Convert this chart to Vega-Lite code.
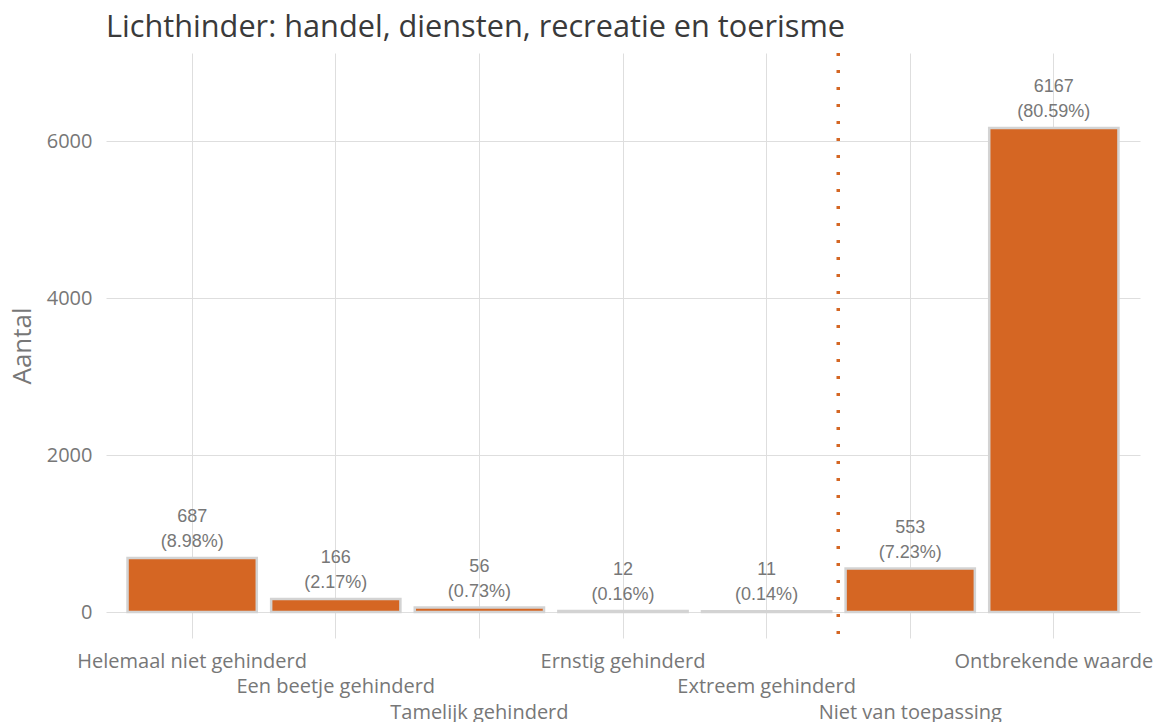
{
  "$schema": "https://vega.github.io/schema/vega-lite/v6.json",
  "width": 1034,
  "height": 585,
  "autosize": "none",
  "padding": {"left": 106, "top": 53, "right": 16, "bottom": 84},
  "background": "white",
  "title": {
    "text": "Lichthinder: handel, diensten, recreatie en toerisme",
    "anchor": "start",
    "frame": "group",
    "font": "Open Sans",
    "fontSize": 30.7,
    "fontWeight": "normal",
    "color": "#3a3a3a",
    "baseline": "bottom",
    "offset": 6,
    "dy": 28
  },
  "config": {"view": {"stroke": null}},
  "data": {
    "values": [
      {"cat": "Helemaal niet gehinderd", "n": 687, "pct": "(8.98%)"},
      {"cat": "Een beetje gehinderd", "n": 166, "pct": "(2.17%)"},
      {"cat": "Tamelijk gehinderd", "n": 56, "pct": "(0.73%)"},
      {"cat": "Ernstig gehinderd", "n": 12, "pct": "(0.16%)"},
      {"cat": "Extreem gehinderd", "n": 11, "pct": "(0.14%)"},
      {"cat": "Niet van toepassing", "n": 553, "pct": "(7.23%)"},
      {"cat": "Ontbrekende waarde", "n": 6167, "pct": "(80.59%)"}
    ]
  },
  "layer": [
    {
      "mark": {"type": "bar", "color": "#D56623", "stroke": "#d3d3d3", "strokeWidth": 2.5},
      "encoding": {
        "x": {
          "field": "cat",
          "type": "nominal",
          "sort": null,
          "scale": {"paddingInner": 0.1, "paddingOuter": 0.15},
          "axis": {
            "title": null,
            "labelAngle": 0,
            "labelOverlap": false,
            "labelLimit": 0,
            "labelBound": false,
            "bandPosition": 0.5,
            "domain": false,
            "ticks": false,
            "grid": true,
            "gridColor": "#dedede",
            "gridWidth": 1,
            "labelFont": "Open Sans",
            "labelFontSize": 20,
            "labelColor": "#777777",
            "labelPadding": {
              "condition": [
                {"test": "datum.value == 'Een beetje gehinderd' || datum.value == 'Extreem gehinderd'", "value": 38.5},
                {"test": "datum.value == 'Tamelijk gehinderd' || datum.value == 'Niet van toepassing'", "value": 64}
              ],
              "value": 13
            }
          }
        },
        "y": {
          "field": "n",
          "type": "quantitative",
          "scale": {"domain": [-331, 7122], "nice": false, "zero": false},
          "axis": {
            "values": [0, 2000, 4000, 6000],
            "format": "d",
            "title": "Aantal",
            "titleFont": "Open Sans",
            "titleFontSize": 26,
            "titleFontWeight": "normal",
            "titleColor": "#777777",
            "titlePadding": 11,
            "domain": false,
            "ticks": false,
            "grid": true,
            "gridColor": "#dedede",
            "gridWidth": 1,
            "labelFont": "Open Sans",
            "labelFontSize": 20,
            "labelColor": "#777777",
            "labelPadding": 14
          }
        }
      }
    },
    {
      "mark": {"type": "text", "baseline": "alphabetic", "dy": -11, "font": "Liberation Sans", "fontSize": 18, "color": "#777777"},
      "encoding": {
        "x": {"field": "cat", "type": "nominal", "sort": null},
        "y": {"field": "n", "type": "quantitative"},
        "text": {"field": "pct"}
      }
    },
    {
      "mark": {"type": "text", "baseline": "alphabetic", "dy": -36, "font": "Liberation Sans", "fontSize": 18, "color": "#777777"},
      "encoding": {
        "x": {"field": "cat", "type": "nominal", "sort": null},
        "y": {"field": "n", "type": "quantitative"},
        "text": {"field": "n", "type": "quantitative", "format": "d"}
      }
    },
    {
      "mark": {"type": "rule", "strokeDash": [3, 14], "strokeWidth": 3, "color": "#D56623"},
      "encoding": {
        "x": {"datum": "Niet van toepassing", "type": "nominal", "bandPosition": -0.0556}
      }
    }
  ]
}
